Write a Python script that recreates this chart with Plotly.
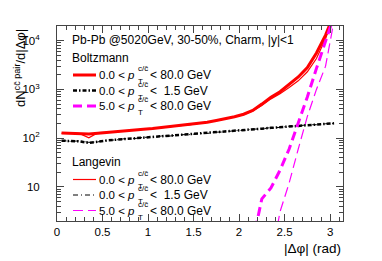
import plotly.graph_objects as go
import math

# ---------------- data ----------------
x_bins = [0.05, 0.15, 0.25, 0.35, 0.45, 0.55, 0.65, 0.75, 0.85, 0.95,
          1.05, 1.15, 1.25, 1.35, 1.45, 1.55, 1.65, 1.75, 1.85, 1.95,
          2.05, 2.15, 2.25, 2.35, 2.45, 2.55, 2.65, 2.75, 2.85, 2.95, 3.05]

boltz_all = [128, 125, 126, 122, 126, 130, 135, 140, 146, 152,
             158, 165, 172, 180, 189, 198, 212, 230, 250, 275,
             310, 370, 500, 690, 900, 1250, 1800, 2800, 5600, 13000, 38000]
boltz_low = [89, 88, 86, 80, 86, 90, 93, 96, 99, 102,
             106, 109, 112, 116, 119, 122, 126, 131, 136, 141,
             146, 151, 157, 163, 168, 174, 180, 186, 191, 196, 202]
x_boltz_high = [2.05, 2.15, 2.25, 2.35, 2.45, 2.55, 2.65, 2.75, 2.85, 2.95, 3.05]
boltz_high = [0.1, 0.7, 5.7, 9.5, 22, 60, 200, 700, 2700, 9000, 35000]

lang_all = [126, 128, 124, 102, 130, 132, 134, 141, 148, 153,
            157, 166, 174, 181, 188, 200, 210, 228, 248, 272,
            305, 360, 470, 640, 820, 1100, 1500, 2300, 4300, 11000, 38000]
lang_low = [90, 86, 88, 82, 84, 91, 92, 98, 98, 104,
            105, 111, 111, 118, 118, 124, 125, 133, 134, 143,
            144, 153, 155, 165, 166, 176, 178, 189, 189, 198, 200]
x_lang_high = [2.25, 2.35, 2.45, 2.55, 2.65, 2.75, 2.85, 2.95, 3.05]
lang_high = [0.05, 0.3, 3.1, 12, 60, 280, 1000, 3000, 30000]

y_tick_vals = [10, 100, 1000, 10000]
y_tick_text = ["10", "10<sup>2</sup>", "10<sup>3</sup>", "10<sup>4</sup>"]
y_minor_vals = [m * d for d in [1, 10, 100, 1000] for m in range(2, 10)] + [20000]

title_text = "Pb-Pb @5020GeV, 30-50%, Charm, |y|<1"
ranges = [("0.0", "< 80.0 GeV"), ("0.0", "<\u00a0 1.5 GeV"), ("5.0", "< 80.0 GeV")]

# ---------------- layout geometry ----------------
W, H = 382, 261
ML, MR, MT, MB = 57, 39, 26, 40
PW, PH = W - ML - MR, H - MT - MB


def px(xp):
    return (xp - ML) / PW


def py(yp):
    return (H - MB - yp) / PH


RED, BLACK, MAG = "#ff0000", "#000000", "#ff00ff"
FONT = "Liberation Sans, Arial, sans-serif"

styles_b = [dict(color=RED, width=3, dash="solid"),
            dict(color=BLACK, width=2.5, dash="4px,2px,1.5px,2px"),
            dict(color=MAG, width=3, dash="9px,5px")]
styles_l = [dict(color=RED, width=1.2, dash="solid"),
            dict(color=BLACK, width=1, dash="5px,3px,1px,3px"),
            dict(color=MAG, width=1.2, dash="10px,5px")]

fig = go.Figure()
fig.add_trace(go.Scatter(x=x_bins, y=lang_all, mode="lines", line=styles_l[0], showlegend=False))
fig.add_trace(go.Scatter(x=x_bins, y=lang_low, mode="lines", line=styles_l[1], showlegend=False))
fig.add_trace(go.Scatter(x=x_lang_high, y=lang_high, mode="lines", line=styles_l[2], showlegend=False))
fig.add_trace(go.Scatter(x=x_bins, y=boltz_all, mode="lines", line=styles_b[0], showlegend=False))
fig.add_trace(go.Scatter(x=x_bins, y=boltz_low, mode="lines", line=styles_b[1], showlegend=False))
fig.add_trace(go.Scatter(x=x_boltz_high, y=boltz_high, mode="lines", line=styles_b[2], showlegend=False))

annotations = []
shapes = []


def text(xp, yp, s, size=12, xanchor="left", yanchor="middle", **kw):
    annotations.append(dict(x=px(xp), y=py(yp), xref="paper", yref="paper", text=s,
                            showarrow=False, xanchor=xanchor, yanchor=yanchor,
                            font=dict(family=FONT, size=size, color="#000"),
                            borderpad=0, **kw))


text(71, 40, title_text)
text(71, 58, "Boltzmann")
text(71, 162, "Langevin")


def entry(yp, style, lo, hi):
    shapes.append(dict(type="line", xref="paper", yref="paper",
                       x0=px(73), x1=px(96), y0=py(yp), y1=py(yp),
                       line=style))
    text(135.5, yp, lo + " < <i>p</i>", size=11.5, xanchor="right")
    text(136.5, yp - 6.5, "c/c\u0304", size=8)
    text(137, yp + 6.5, "T", size=8)
    text(149, yp, hi)


for yp, st, (lo, hi) in zip([75, 90.5, 106], styles_b, ranges):
    entry(yp, st, lo, hi)
for yp, st, (lo, hi) in zip([179.5, 195, 210.5], styles_l, ranges):
    entry(yp, st, lo, hi)

# axis titles
annotations.append(dict(x=px(20), y=py(27), xref="paper", yref="paper",
                        text="dN<sup>cc\u0304 pair</sup>/d|\u0394\u03c6|", textangle=-90,
                        showarrow=False, xanchor="center", yanchor="top",
                        font=dict(family=FONT, size=13, color="#000")))
annotations.append(dict(x=px(343), y=py(248), xref="paper", yref="paper",
                        text="|\u0394\u03c6| (rad)", showarrow=False,
                        xanchor="right", yanchor="middle",
                        font=dict(family=FONT, size=13.5, color="#000")))

fig.update_layout(
    width=W, height=H,
    margin=dict(l=ML, r=MR, t=MT, b=MB),
    paper_bgcolor="white", plot_bgcolor="white",
    annotations=annotations, shapes=shapes,
    font=dict(family=FONT, size=12, color="#000"),
)
fig.update_xaxes(range=[0, math.pi], dtick=0.5, tick0=0, ticks="inside", ticklen=7,
                 tickcolor="#444", showline=True, linecolor="#444", linewidth=1,
                 mirror="allticks", showgrid=False, zeroline=False,
                 tickfont=dict(family=FONT, size=11.5, color="#000"),
                 minor=dict(dtick=0.1, tick0=0, ticks="inside", ticklen=4, tickcolor="#444", showgrid=False))
fig.update_yaxes(type="log", range=[math.log10(2), math.log10(20000)],
                 tickvals=y_tick_vals, ticktext=y_tick_text,
                 ticks="inside", ticklen=7, tickcolor="#444",
                 showline=True, linecolor="#444", linewidth=1,
                 mirror="allticks", showgrid=False, zeroline=False,
                 ticklabelstandoff=14,
                 tickfont=dict(family=FONT, size=11.5, color="#000"),
                 minor=dict(tickvals=y_minor_vals, ticks="inside", ticklen=4, tickcolor="#444", showgrid=False))

fig.write_html("out.html", config={"displayModeBar": False},
               post_script="document.body.style.margin='0px';document.body.style.overflow='hidden';")
